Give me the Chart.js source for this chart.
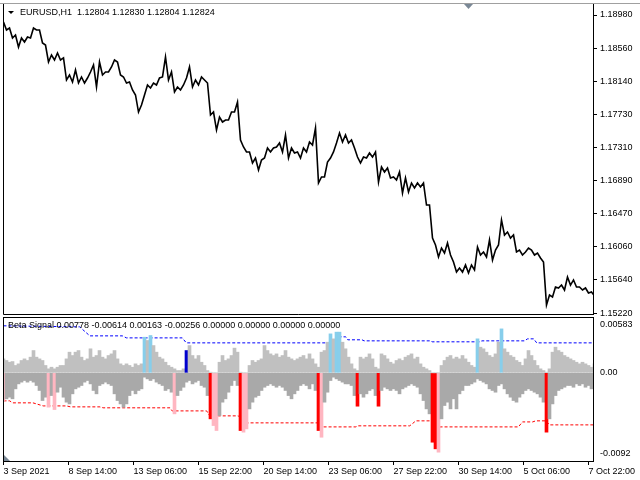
<!DOCTYPE html>
<html><head><meta charset="utf-8">
<script src="https://cdn.jsdelivr.net/npm/chart.js@4.4.1/dist/chart.umd.min.js"></script>
<style>
html,body{margin:0;padding:0;background:#fff;width:640px;height:480px;overflow:hidden}
#top{position:absolute;left:0;top:0}
#bot{position:absolute;left:0;top:316px}
</style></head><body>
<canvas id="top" width="640" height="320"></canvas>
<canvas id="bot" width="640" height="164"></canvas>
<script>
const symbolTitle = 'EURUSD,H1  1.12804 1.12830 1.12804 1.12824';
const indicatorTitle = 'Beta Signal 0.00778 -0.00614 0.00163 -0.00256 0.00000 0.00000 0.00000 0.00000';
const dateLabels = ['3 Sep 2021','8 Sep 14:00','13 Sep 06:00','15 Sep 22:00','20 Sep 14:00','23 Sep 06:00','27 Sep 22:00','30 Sep 14:00','5 Oct 06:00','7 Oct 22:00'];
const dateLabelBars = [0,64,128,192,256,320,384,448,512,576];
const priceTicks = [1.18980,1.18560,1.18140,1.17730,1.17310,1.16890,1.16470,1.16060,1.15640,1.15220];
const signalTicks = [0.00583,0.00,-0.0092];
const BARS_PER_SAMPLE = 3*64/65;

const closePrices = [
1.18892,1.18791,1.18816,1.18690,1.18728,1.18576,1.18690,1.18639,1.18702,1.18690,
1.18816,1.18791,1.18791,1.18627,1.18601,1.18387,1.18475,1.18412,1.18501,1.18412,
1.18438,1.18160,1.18223,1.18135,1.18286,1.18122,1.18198,1.18122,1.18185,1.18261,
1.18349,1.18072,1.18387,1.18223,1.18261,1.18261,1.18324,1.18412,1.18387,1.18223,
1.18198,1.18122,1.18135,1.18034,1.17971,1.17756,1.17845,1.17971,1.18097,1.18059,
1.18122,1.18097,1.18185,1.18198,1.18450,1.18160,1.18261,1.18009,1.18072,1.18034,
1.18097,1.18185,1.18324,1.18072,1.18160,1.18097,1.18198,1.18160,1.18122,1.17718,
1.17756,1.17529,1.17693,1.17630,1.17655,1.17655,1.17756,1.17756,1.17882,1.17403,
1.17315,1.17252,1.17252,1.17113,1.17176,1.17024,1.17151,1.17176,1.17302,1.17252,
1.17302,1.17315,1.17365,1.17252,1.17466,1.17176,1.17302,1.17239,1.17252,1.17176,
1.17302,1.17252,1.17378,1.17340,1.17554,1.16860,1.16936,1.16936,1.17125,1.17176,
1.17252,1.17365,1.17491,1.17378,1.17466,1.17365,1.17403,1.17302,1.17188,1.17113,
1.17188,1.17176,1.17239,1.17188,1.17252,1.16873,1.17062,1.16999,1.17050,1.16923,
1.16936,1.16898,1.16999,1.16734,1.16923,1.16747,1.16860,1.16797,1.16860,1.16810,
1.16860,1.16583,1.16583,1.16166,1.16078,1.15927,1.16040,1.15977,1.16103,1.15952,
1.15864,1.15737,1.15788,1.15737,1.15826,1.15725,1.15826,1.15763,1.16053,1.15952,
1.15990,1.15927,1.16141,1.15889,1.16015,1.16078,1.16394,1.16204,1.16242,1.16166,
1.16204,1.15990,1.16015,1.15952,1.15990,1.16040,1.16015,1.15952,1.15977,1.15914,
1.15864,1.15321,1.15447,1.15422,1.15548,1.15536,1.15573,1.15510,1.15674,1.15573,
1.15637,1.15548,1.15548,1.15510,1.15536,1.15473,1.15485,1.15435];

const betaUp = [
0.00146,0.00129,0.00111,0.00118,0.00077,0.00094,0.00129,0.00146,0.00129,0.00164,
0.00233,0.00164,0.00146,0.00129,0.00077,0.00042,0.00059,0.00042,0.00059,0.00077,
0.00077,0.00146,0.00216,0.00181,0.00216,0.00233,0.00164,0.00129,0.00146,0.00251,
0.00164,0.00181,0.00233,0.00164,0.00146,0.00181,0.00198,0.00233,0.00146,0.00094,
0.00077,0.00094,0.00077,0.00059,0.00094,0.00077,0.00094,0.00372,0.00338,0.00390,
0.00285,0.00216,0.00164,0.00146,0.00111,0.00077,0.00059,0.00042,0.00024,0.00024,
0.00042,0.00233,0.00285,0.00181,0.00146,0.00181,0.00111,0.00077,0.00024,0.00007,
0,0,0.00111,0.00181,0.00129,0.00146,0.00181,0.00258,0.00216,0.00007,
0,0,0.00077,0.00129,0.00111,0.00129,0.00146,0.00285,0.00233,0.00198,
0.00181,0.00198,0.00164,0.00181,0.00233,0.00164,0.00146,0.00129,0.00146,0.00164,
0.00181,0.00146,0.00198,0.00146,0.00094,0.00059,
0.00216,0.00233,0.00320,0.00407,0.00355,0.00425,0.00425,0.00320,0.00251,0.00164,
0.00094,0.00042,0.00024,0.00164,0.00146,0.00164,0.00198,0.00146,0.00059,0.00042,
0.00198,0.00181,0.00146,0.00111,0.00094,0.00129,0.00146,0.00129,0.00164,0.00181,
0.00198,0.00146,0.00164,0.00094,0.00059,0.00042,0.00024,0,0,0,
0.00077,0.00129,0.00164,0.00181,0.00146,0.00164,0.00146,0.00181,0.00146,0.00111,
0.00077,0.00059,0.00355,0.00268,0.00251,0.00216,0.00181,0.00164,0.00198,0.00320,
0.00459,0.00251,0.00216,0.00181,0.00164,0.00129,0.00111,0.00077,0.00146,0.00233,
0.00181,0.00129,0.00077,0.00042,0.00024,0.00007,0.00042,0.00216,0.00268,0.00233,
0.00216,0.00181,0.00164,0.00146,0.00129,0.00111,0.00094,0.00111,0.00094,0.00077,
0.00059,0.00094];

const betaDown = [
-0.00289,-0.00271,-0.00254,-0.00271,-0.00167,-0.00115,-0.00097,-0.00080,-0.00097,-0.00080,
-0.00097,-0.00132,-0.00184,-0.00289,-0.00254,-0.00358,-0.00237,-0.00383,-0.00202,-0.00150,
-0.00254,-0.00306,-0.00324,-0.00219,-0.00167,-0.00150,-0.00132,-0.00097,-0.00080,-0.00115,
-0.00184,-0.00219,-0.00132,-0.00115,-0.00097,-0.00115,-0.00132,-0.00219,-0.00289,-0.00324,
-0.00358,-0.00324,-0.00237,-0.00184,-0.00219,-0.00184,-0.00167,-0.00045,-0.00063,-0.00080,
-0.00063,-0.00097,-0.00115,-0.00132,-0.00184,-0.00167,-0.00202,-0.00428,-0.00237,-0.00184,
-0.00150,-0.00097,-0.00080,-0.00115,-0.00097,-0.00080,-0.00132,-0.00150,-0.00237,-0.00480,
-0.00550,-0.00602,-0.00445,-0.00306,-0.00271,-0.00202,-0.00132,-0.00080,-0.00132,-0.00602,
-0.00619,-0.00585,-0.00376,-0.00306,-0.00254,-0.00237,-0.00184,-0.00150,-0.00132,-0.00115,
-0.00132,-0.00150,-0.00132,-0.00150,-0.00184,-0.00237,-0.00271,-0.00219,-0.00184,-0.00132,
-0.00115,-0.00132,-0.00167,-0.00115,-0.00184,-0.00602,
-0.00672,-0.00306,-0.00202,-0.00080,-0.00045,-0.00063,-0.00080,-0.00097,-0.00115,-0.00115,
-0.00132,-0.00237,-0.00348,-0.00219,-0.00254,-0.00219,-0.00184,-0.00167,-0.00237,-0.00348,
-0.00184,-0.00150,-0.00167,-0.00184,-0.00167,-0.00184,-0.00219,-0.00167,-0.00150,-0.00132,
-0.00115,-0.00132,-0.00150,-0.00219,-0.00289,-0.00376,-0.00428,-0.00724,-0.00793,-0.00828,
-0.00480,-0.00341,-0.00306,-0.00376,-0.00271,-0.00376,-0.00219,-0.00184,-0.00132,-0.00132,
-0.00115,-0.00097,-0.00063,-0.00080,-0.00097,-0.00115,-0.00167,-0.00184,-0.00202,-0.00132,
-0.00115,-0.00167,-0.00219,-0.00254,-0.00289,-0.00306,-0.00254,-0.00219,-0.00184,-0.00167,
-0.00184,-0.00202,-0.00219,-0.00254,-0.00306,-0.00619,-0.00480,-0.00324,-0.00237,-0.00184,
-0.00167,-0.00150,-0.00132,-0.00132,-0.00150,-0.00115,-0.00132,-0.00115,-0.00150,-0.00132,
-0.00167,-0.00115];

const skyBars  = [47,49,109,111,112,158,166];
const navyBars = [61];
const pinkBars = [0,15,17,57,70,71,80,81,106,145];
const redBars  = [69,79,105,118,125,143,144,181];

const upperBandBars = [0,75,85,117,121,176,180,329,332,337,339,353,355,420,422,469,471,513,516,522,525,581];
const upperBandVals = [0.00491,0.00480,0.00386,0.00386,0.00365,0.00365,0.00313,0.00313,0.00376,0.00376,0.00345,0.00345,0.00334,0.00334,0.00324,0.00324,0.00334,0.00334,0.00355,0.00355,0.00313,0.00313];
const lowerBandBars = [0,6,9,29,39,62,66,95,98,164,166,200,203,231,241,309,312,347,349,400,406,422,430,507,511,521,524,534,538,581];
const lowerBandVals = [-0.00292,-0.00292,-0.00313,-0.00313,-0.00345,-0.00345,-0.00355,-0.00355,-0.00365,-0.00365,-0.00397,-0.00397,-0.00449,-0.00449,-0.00522,-0.00522,-0.00564,-0.00564,-0.00553,-0.00553,-0.00501,-0.00501,-0.00564,-0.00564,-0.00512,-0.00512,-0.00501,-0.00501,-0.00543,-0.00543];

// ---- layout helpers ----
const PX_PER_BAR = 65/64;
const X_MIN = -0.5/PX_PER_BAR;
const X_MAX = 589.5/PX_PER_BAR;
const FONT = '9px "Liberation Sans", Arial, sans-serif';
const AXIS_FONT = {family:'"Liberation Sans", Arial, sans-serif', size:9};
const sampleX = i => i*BARS_PER_SAMPLE;

const topDecor = {
  id:'topDecor',
  afterDraw(chart){
    const {ctx, chartArea:a} = chart;
    ctx.save();
    ctx.fillStyle = '#a0a0a0';
    ctx.fillRect(0, a.top-1, 640, 1);
    ctx.strokeStyle = '#000'; ctx.lineWidth = 1;
    ctx.beginPath();
    ctx.moveTo(a.left+0.5, a.top); ctx.lineTo(a.left+0.5, a.bottom+0.5);
    ctx.lineTo(a.right, a.bottom+0.5);
    ctx.stroke();
    ctx.fillStyle = '#7a8896';
    ctx.beginPath(); ctx.moveTo(464, a.top); ctx.lineTo(473, a.top); ctx.lineTo(468.5, a.top+5); ctx.closePath(); ctx.fill();
    ctx.fillStyle = '#000';
    ctx.beginPath(); ctx.moveTo(8, a.top+7); ctx.lineTo(14, a.top+7); ctx.lineTo(11, a.top+10); ctx.closePath(); ctx.fill();
    ctx.font = FONT; ctx.textBaseline = 'middle'; ctx.textAlign = 'left';
    ctx.fillText(symbolTitle, 20, a.top+9);
    ctx.restore();
  }
};

const botDecor = {
  id:'botDecor',
  afterDraw(chart){
    const {ctx, chartArea:a} = chart;
    const ys = chart.scales.y;
    ctx.save();
    ctx.strokeStyle = '#000'; ctx.lineWidth = 1;
    ctx.strokeRect(a.left+0.5, a.top+0.5, a.right-a.left, a.bottom-a.top);
    ctx.fillStyle = '#7a8896';
    ctx.beginPath(); ctx.moveTo(a.left+1, a.bottom-6); ctx.lineTo(a.left+1, a.bottom); ctx.lineTo(a.left+7, a.bottom); ctx.closePath(); ctx.fill();
    ctx.fillStyle = '#000';
    ctx.font = FONT; ctx.textBaseline = 'middle'; ctx.textAlign = 'left';
    ctx.fillText(indicatorTitle, 8, a.top+9);
    signalTicks.forEach(v => {
      let y = ys.getPixelForValue(v);
      y = Math.min(Math.max(y, a.top+8), a.bottom-7);
      const txt = v === 0 ? '0.00' : (v < 0 ? v.toFixed(4) : v.toFixed(5));
      ctx.fillText(txt, a.right+7, y);
    });
    ctx.restore();
  }
};

new Chart(document.getElementById('top'), {
  type:'line',
  data:{ datasets:[{
    data: closePrices.map((p,i)=>({x:sampleX(i), y:p})),
    borderColor:'#000', borderWidth:1.6, pointRadius:0, tension:0
  }]},
  options:{
    responsive:false, animation:false, devicePixelRatio:1,
    layout:{padding:{left:3, top:4, bottom:6, right:0}},
    plugins:{legend:{display:false}, tooltip:{enabled:false}},
    scales:{
      x:{type:'linear', display:false, offset:false, min:X_MIN, max:X_MAX},
      y:{position:'right', min:1.152076, max:1.191188,
        afterBuildTicks: s => { s.ticks = priceTicks.map(v=>({value:v})); },
        afterFit: s => { s.width = 47; s.paddingTop = 0; s.paddingBottom = 0; },
        ticks:{autoSkip:false, font:AXIS_FONT, color:'#000', padding:3, callback:v=>Number(v).toFixed(5)},
        grid:{drawOnChartArea:false, drawTicks:true, tickLength:4, color:'#000'},
        border:{display:true, color:'#000'}
      }
    }
  },
  plugins:[topDecor]
});

const upColors = betaUp.map((v,i)=> skyBars.includes(i) ? '#87CEEB' : navyBars.includes(i) ? '#0000CD' : '#C0C0C0');
const downColors = betaDown.map((v,i)=> redBars.includes(i) ? '#FF0000' : pinkBars.includes(i) ? '#FFB6C1' : '#A9A9A9');

new Chart(document.getElementById('bot'), {
  data:{ datasets:[
    {type:'bar', data: betaUp.map((v,i)=>({x:sampleX(i), y:v})), backgroundColor: upColors,
     borderWidth:0, barPercentage:1, categoryPercentage:1, grouped:false, order:1},
    {type:'bar', data: betaDown.map((v,i)=>({x:sampleX(i), y:v})), backgroundColor: downColors,
     borderWidth:0, barPercentage:1, categoryPercentage:1, grouped:false, order:1},
    {type:'line', data: upperBandBars.map((b,k)=>({x:b, y:upperBandVals[k]})), borderColor:'#0000FF',
     borderWidth:1, borderDash:[3,2], pointRadius:0, tension:0, order:2},
    {type:'line', data: lowerBandBars.map((b,k)=>({x:b, y:lowerBandVals[k]})), borderColor:'#FF0000',
     borderWidth:1, borderDash:[3,2], pointRadius:0, tension:0, order:2}
  ]},
  options:{
    responsive:false, animation:false, devicePixelRatio:1,
    layout:{padding:{left:3, top:1, bottom:0, right:0}},
    plugins:{legend:{display:false}, tooltip:{enabled:false}},
    scales:{
      x:{type:'linear', offset:false, min:X_MIN, max:X_MAX, position:'bottom',
        afterBuildTicks: s => { s.ticks = dateLabelBars.map(v=>({value:v})); },
        afterFit: s => { s.height = 19; s.paddingLeft = 0; s.paddingRight = 0; },
        ticks:{autoSkip:false, maxRotation:0, minRotation:0, align:'start', padding:1, font:AXIS_FONT, color:'#000',
               callback:(v,idx)=>dateLabels[idx]},
        grid:{drawOnChartArea:false, drawTicks:true, tickLength:4, color:'#000', offset:false},
        border:{display:true, color:'#000'}
      },
      y:{position:'right', min:-0.0092, max:0.00583,
        afterFit: s => { s.width = 47; s.paddingTop = 0; s.paddingBottom = 0; },
        ticks:{display:false},
        grid:{drawOnChartArea:false, drawTicks:false},
        border:{display:true, color:'#000'}
      }
    }
  },
  plugins:[botDecor]
});
</script>
</body></html>
